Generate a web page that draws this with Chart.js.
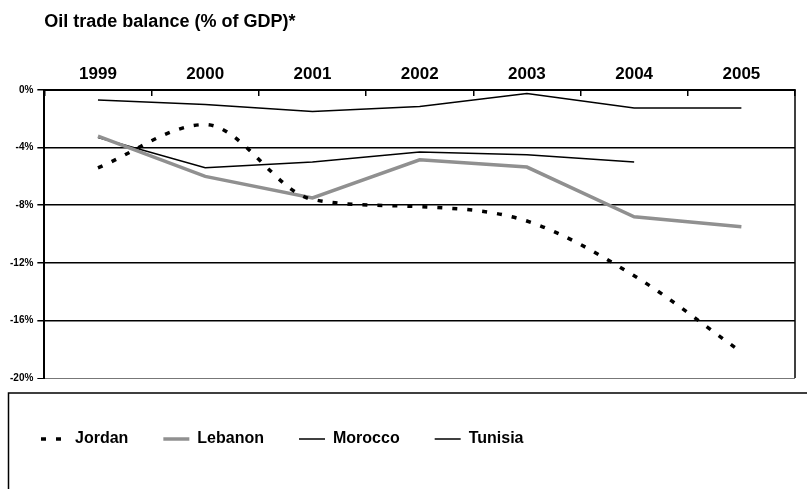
<!DOCTYPE html>
<html>
<head>
<meta charset="utf-8">
<script src="https://cdn.jsdelivr.net/npm/chart.js@4/dist/chart.umd.min.js"></script>
<style>
  html, body { margin: 0; padding: 0; background: #fff; }
  #wrap { width: 807px; height: 489px; }
</style>
</head>
<body>
<div id="wrap"><canvas id="myChart"></canvas></div>
<script>
// values (% of GDP)
var years = ["1999", "2000", "2001", "2002", "2003", "2004", "2005"];
var jordan = [-5.4, -2.4, -7.6, -8.1, -9.1, -12.9, -18.2];
var lebanon = [-3.2, -6.0, -7.5, -4.85, -5.35, -8.8, -9.5];
var morocco = [-3.3, -5.4, -5.0, -4.3, -4.5, -5.0, null];
var tunisia = [-0.7, -1.0, -1.5, -1.15, -0.25, -1.25, -1.25];

Chart.defaults.font.family = "'Liberation Sans', Arial, sans-serif";
Chart.defaults.color = "#000";

// right border of the plot and the box round the legend
var framePlugin = {
  id: "frame",
  afterDraw: function(chart) {
    var ctx = chart.ctx;
    var a = chart.chartArea;
    ctx.save();
    ctx.strokeStyle = "#000";
    ctx.lineWidth = 1.5;
    ctx.beginPath();
    ctx.moveTo(a.right, a.top);
    ctx.lineTo(a.right, a.bottom);
    ctx.stroke();
    ctx.strokeRect(8.5, chart.legend.top + 15, chart.width, chart.height);
    ctx.restore();
  }
};

var chart = new Chart("myChart", {
  type: "line",
  data: {
    labels: years,
    datasets: [{
      label: "Jordan",
      data: jordan,
      borderColor: "#000",
      borderWidth: 3.5,
      borderDash: [5, 10],
      cubicInterpolationMode: "monotone",
      pointRadius: 0
    }, {
      label: "Lebanon",
      data: lebanon,
      borderColor: "#909090",
      borderWidth: 3.5,
      pointRadius: 0
    }, {
      label: "Morocco",
      data: morocco,
      borderColor: "#000",
      borderWidth: 1.5,
      pointRadius: 0
    }, {
      label: "Tunisia",
      data: tunisia,
      borderColor: "#000",
      borderWidth: 1.5,
      pointRadius: 0
    }]
  },
  options: {
    responsive: true,
    maintainAspectRatio: false,
    animation: false,
    layout: { padding: { left: 6, right: 12, top: 0, bottom: 32 } },
    plugins: {
      title: {
        display: true,
        text: "Oil trade balance (% of GDP)*",
        align: "start",
        fullSize: false,
        font: { size: 18, weight: "bold" },
        padding: { top: 11, bottom: 21 }
      },
      legend: {
        position: "bottom",
        align: "start",
        title: { display: true, text: "", font: { size: 5 }, padding: 6 },
        labels: {
          usePointStyle: true,
          pointStyle: "line",
          pointStyleWidth: 26,
          padding: 35,
          font: { size: 16, weight: "bold" },
          generateLabels: function(chart) {
            var items = Chart.defaults.plugins.legend.labels.generateLabels(chart);
            items.forEach(function(it) {
              var ds = chart.data.datasets[it.datasetIndex];
              it.lineDash = ds.borderDash || [];
              it.lineWidth = ds.borderWidth;
            });
            return items;
          }
        }
      },
      tooltip: { enabled: false }
    },
    scales: {
      x: {
        position: "top",
        offset: true,
        grid: { drawOnChartArea: false, offset: true, tickLength: -6, color: "#000", lineWidth: 1.5 },
        border: { display: true, color: "#000", width: 2 },
        ticks: { padding: 11, font: { size: 17, weight: "bold" } }
      },
      y: {
        min: -20,
        max: 0,
        ticks: {
          stepSize: 4,
          padding: 4,
          font: { size: 10, weight: "bold" },
          callback: function(v) { return v + "%"; }
        },
        grid: {
          color: function(c) { return c.tick && c.tick.value === -20 ? "#777" : "#000"; },
          lineWidth: function(c) { return c.tick && c.tick.value === -20 ? 1 : 1.5; },
          tickColor: "#000",
          tickLength: 7
        },
        border: { display: true, color: "#000", width: 2 }
      }
    }
  },
  plugins: [framePlugin]
});
</script>
</body>
</html>
